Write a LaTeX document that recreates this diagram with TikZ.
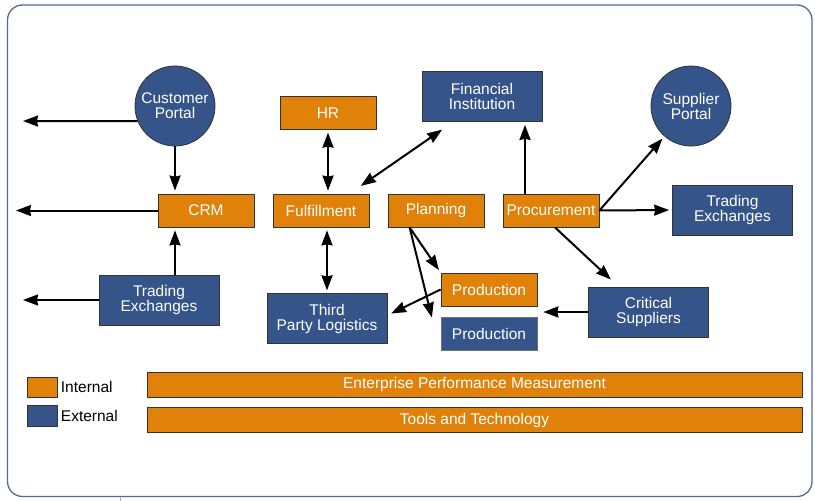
\documentclass[tikz,border=0pt]{standalone}
\usepackage{fontspec}
\setmainfont{Liberation Sans}
\usepackage{xcolor}
\usepackage{tikz}
\usetikzlibrary{positioning}
\usetikzlibrary{arrows.meta}
\definecolor{intcol}{RGB}{224,130,10}
\definecolor{extcol}{RGB}{53,84,138}
\definecolor{framecol}{RGB}{80,108,152}
\tikzset{edge/.style = {->,> = {Stealth[length=15pt,width=11pt,inset=1pt]},line width=2pt,shorten >=3pt}}

\begin{document}
\begin{tikzpicture}[x=1pt,y=-1pt,node distance=115pt,
    every node/.style={font=\fontsize{15.5}{15}\selectfont,text=white},
    box/.style={draw=black!80,line width=0.8pt,inner sep=0pt,align=center},
    int node/.style={box,fill=intcol,minimum width=96pt,minimum height=33pt},
    ext node/.style={box,fill=extcol,minimum width=120pt,minimum height=50pt},
    portal node/.style={box,circle,fill=extcol,minimum size=80pt},
    both/.style={<->,shorten <=3pt}]
                \useasboundingbox (0,0) rectangle (815,501);
                \draw[framecol,line width=1.3pt,rounded corners=15pt] (7.5,5) rectangle (812,496.5);
                \draw[gray!60,line width=0.8pt] (120.5,497) -- (120.5,501);

                % middle row
                \node[int node] (crm) at (206,210.5) {CRM};
                \node[int node] (fulfil) [right of=crm] {Fulfillment};
                \node[int node] (plan) [right of=fulfil] {Planning};
                \node[int node] (proc) [right of=plan] {Procurement};
                \node[int node] (hr) [above=64pt of fulfil,xshift=7pt] {HR};
                \node[ext node] (tpl) [below=66pt of fulfil,xshift=6pt] {Third\\Party Logistics};
                \node[int node] (prodo) at (489,289.5) {Production};
                \node[int node,fill=extcol,draw=black!55] (prodb) [below=11pt of prodo] {Production};

                % outside parties
                \node[portal node] (cp) at (175,106) {Customer\\Portal};
                \node[portal node] (sp) at (691,106) {Supplier\\Portal};
                \node[ext node] (tel) at (159,300) {Trading\\Exchanges};
                \node[ext node] (ter) at (732.5,210) {Trading\\Exchanges};
                \node[ext node] (fi) at (482,96.5) {Financial\\Institution};
                \node[ext node] (cs) at (648.5,312) {Critical\\Suppliers};

                \coordinate (cpout) at (20,121);
                \coordinate (crmout) at (13,210.5);
                \coordinate (telout) at (20,300);

                \draw[edge] (cp.202) -- (cpout);
                \draw[edge] (cp.south) -- (cp.south |- crm.north);
                \draw[edge] (crm.west) -- (crmout);
                \draw[edge] (tel.north -| cp.south) -- (crm.south -| cp.south);
                \draw[edge] (tel.west) -- (telout);
                \draw[edge,both] (hr.south) -- (hr.south |- fulfil.north);
                \draw[edge,both] (tpl.north) -- (tpl.north |- fulfil.south);
                \draw[edge,both] ([shift={(-11,-6)}]fulfil.north east) -- ([shift={(23,6)}]fi.south west);
                \draw[edge] ([xshift=-26pt]proc.north) -- ([xshift=-26pt]proc.north |- fi.south);
                \draw[edge] (proc.east) -- (sp);
                \draw[edge] (proc.east) -- (ter.west);
                \draw[edge] ([xshift=4pt]proc.south) -- ([shift={(25,-5)}]cs.north west);
                \draw[edge] (cs.west) -- ([xshift=3pt]prodo.east |- cs.west);
                \draw[edge] ([xshift=22pt]plan.south west) -- (prodo.north west);
                \draw[edge] ([xshift=22pt]plan.south west) -- ([shift={(-8,3)}]prodb.north west);
                \draw[edge] (prodo.west) -- ([shift={(1,-4)}]tpl.east);

                % legend and bars
                \node[box,fill=intcol,minimum width=30pt,minimum height=20pt] (intkey) at (42,387) {};
                \node[box,fill=extcol,minimum width=30pt,minimum height=21pt] (extkey) at (42,416) {};
                \node[text=black] (intlabel) [right=0pt of intkey] {Internal};
                \node[text=black] (extlabel) [right=0pt of extkey] {External};
                \node[box,fill=intcol,minimum width=655pt,minimum height=25pt] (epm) at (474.5,384.5) {Enterprise Performance Measurement};
                \node[box,fill=intcol,minimum width=655pt,minimum height=25pt] (tools) [below=10pt of epm] {Tools and Technology};
            \end{tikzpicture}
\end{document}
